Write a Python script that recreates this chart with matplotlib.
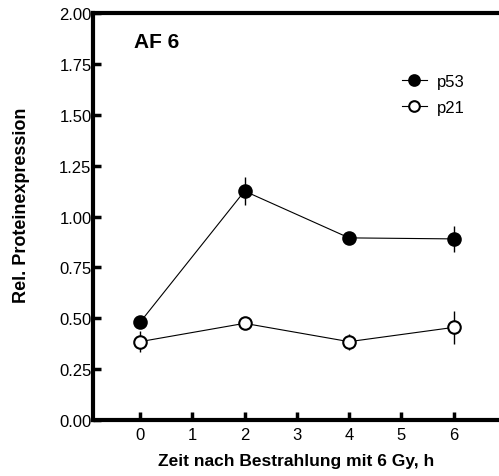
import matplotlib.pyplot as plt

plt.rcParams['font.family'] = ['Liberation Sans', 'DejaVu Sans']

# Zeitpunkte nach Bestrahlung (h) und relative Expression
time_h = [0, 2, 4, 6]
p53_mean = [0.48, 1.125, 0.895, 0.89]
p53_err = [0.02, 0.07, 0.02, 0.065]
p21_mean = [0.385, 0.475, 0.385, 0.455]
p21_err = [0.05, 0.02, 0.04, 0.08]

fig = plt.figure(figsize=(4.99, 4.77), dpi=100)
ax = fig.add_axes([0.1864, 0.1174, 0.8136, 0.8532])

ax.errorbar(time_h, p53_mean, yerr=p53_err, color='black', lw=0.8, elinewidth=1.0,
            capsize=0, marker='o', ms=9, mfc='black', mec='black', mew=1.5, label='p53')
ax.errorbar(time_h, p21_mean, yerr=p21_err, color='black', lw=0.8, elinewidth=1.0,
            capsize=0, marker='o', ms=9, mfc='white', mec='black', mew=1.5, label='p21')

ax.set_xlim(-0.9, 6.87)
ax.set_ylim(0, 2.0)
ax.set_xticks(range(0, 7))
ax.set_yticks([0, 0.25, 0.5, 0.75, 1.0, 1.25, 1.5, 1.75, 2.0])
ax.set_yticklabels(['0.00', '0.25', '0.50', '0.75', '1.00', '1.25', '1.50', '1.75', '2.00'])

for side in ['left', 'bottom', 'top']:
    ax.spines[side].set_linewidth(3)
ax.spines['right'].set_visible(False)
ax.tick_params(direction='in', length=6, width=2.5, labelsize=12, pad=1)
ax.tick_params(axis='x', pad=5)

ax.set_xlabel('Zeit nach Bestrahlung mit 6 Gy, h', fontsize=12.5, fontweight='bold', labelpad=8)
ax.set_ylabel('Rel. Proteinexpression', fontsize=13, fontweight='bold')
ax.yaxis.set_label_coords(-0.156, 0.531)

ax.text(0.1, 0.931, 'AF 6', transform=ax.transAxes, fontsize=15, fontweight='bold',
        va='center', ha='left')

# legend entries without the error bar stubs
handles, labels = ax.get_legend_handles_labels()
handles = [h[0] for h in handles]
ax.legend(handles, labels, loc='upper left', bbox_to_anchor=(0.76, 0.85), frameon=False,
          fontsize=12, handlelength=1.5, handletextpad=0.6, labelspacing=0.64,
          borderaxespad=0, borderpad=0, markerscale=0.85)

fig.savefig('out.png', dpi=100)
